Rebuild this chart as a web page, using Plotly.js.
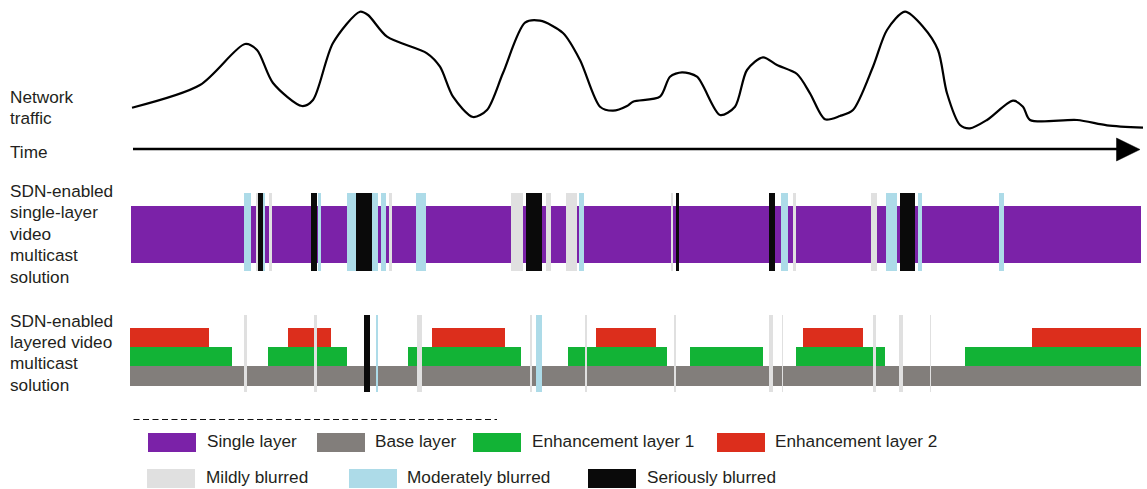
<!DOCTYPE html>
<html>
<head>
<meta charset="utf-8">
<script src="https://cdn.plot.ly/plotly-3.0.1.min.js"></script>
<style>html,body{margin:0;padding:0;background:#fff;}#chart{width:1147px;height:489px;}</style>
</head>
<body>
<div id="chart"></div>
<script>
// ---- Data (x in time units = pixel columns) ----
const trafficX = [132,200,245,257,273,302,313,333,360,368,387,427,440,453,473,487,503,525,540,563,580,600,613,627,633,660,670,682,697,720,735,747,763,777,797,810,825,840,853,873,887,905,923,938,947,960,970,987,1013,1023,1030,1077,1107,1143];
const trafficY = [107.7,85,44,50,83,106,100,43,11.7,15,36.7,53.3,66.7,96.7,117,110,73,22.7,20.7,33,60,106.7,110.7,106,101.7,96.7,76.7,72.3,76.7,115,106.7,70,57.3,65,74,93.3,119.3,116,110,66.7,30,11.7,26.7,50,93.3,125,128.3,120,100.7,106.7,120,120,125.3,127.7];

// single-layer row
const singleLayer = [[131,1141]];
const singleMild = [[256,258.5],[269,271.7],[389,391.7],[511,522.7],[546,551],[566,577],[671,672.7],[793.3,796],[871,876.7]];
const singleModerate = [[244,251],[262.7,265],[318.3,320.7],[346.7,356],[372.3,377.7],[381,386],[416,426],[579,584.3],[780.7,788],[886,896.7],[917.7,922.3],[999.3,1004.3]];
const singleSerious = [[258.3,262.7],[311,317.3],[356,372.3],[526,542],[676,678.7],[769,775.3],[900,915]];

// layered row
const baseLayer = [[130.3,1141]];
const enhLayer1 = [[130.3,231.7],[268.3,347.3],[408,520.7],[568.3,667],[690,762.7],[795.7,885],[964.7,1141]];
const enhLayer2 = [[130.3,209],[288,331],[432.3,505.3],[595.7,656],[802.7,863.3],[1031.7,1141]];
const layeredMild = [[244,246.7],[314,316.7],[417,421.7],[530.3,532.3],[584.7,587],[674.3,675.7],[769,772.7],[781.7,783.3],[873.3,875.7],[898.7,903.3],[930,931]];
const layeredModerate = [[375.7,377.7],[536,542.3]];
const layeredSerious = [[363.7,370]];

const legendRow1Labels = ["Single layer","Base layer","Enhancement layer 1","Enhancement layer 2"];
const legendRow2Labels = ["Mildly blurred","Moderately blurred","Seriously blurred"];
const rowLabelTraffic = ["Network","traffic"];
const rowLabelTime = ["Time"];
const rowLabelSingle = ["SDN-enabled","single-layer","video","multicast","solution"];
const rowLabelLayered = ["SDN-enabled","layered video","multicast","solution"];

// ---- Styles / layout constants ----
const C = {
  purple:'#7B22A8', base:'#827E7B', enh1:'#12B336', enh2:'#DC2E1C',
  mild:'#E0E0E0', moderate:'#ADDBE8', serious:'#0A0A0A', text:'#231F20'
};
const FONT = 'Arial, "Liberation Sans", Helvetica, sans-serif';
const FS = 17.2;

function rects(spans, top, bottom, color){
  return {
    type:'bar', x:spans.map(s=>(s[0]+s[1])/2), width:spans.map(s=>s[1]-s[0]),
    base:spans.map(()=>top), y:spans.map(()=>bottom-top),
    marker:{color:color, line:{width:0}}, hoverinfo:'skip', showlegend:false
  };
}

const traces = [];
traces.push(rects(singleLayer,206,263.3,C.purple));
traces.push(rects(singleMild,193,271,C.mild));
traces.push(rects(singleModerate,193,271,C.moderate));
traces.push(rects(singleSerious,193,271,C.serious));

traces.push(rects(baseLayer,366,386,C.base));
traces.push(rects(enhLayer1,347.3,366,C.enh1));
traces.push(rects(enhLayer2,328,347.3,C.enh2));
traces.push(rects(layeredMild,315,392,C.mild));
traces.push(rects(layeredModerate,315,392,C.moderate));
traces.push(rects(layeredSerious,315,392,C.serious));

// traffic curve
traces.push({type:'scatter', mode:'lines', x:trafficX, y:trafficY,
  line:{color:'#000', width:2.2, shape:'spline', smoothing:0.8}, hoverinfo:'skip', showlegend:false});

// time arrow
traces.push({type:'scatter', mode:'lines', x:[133,1120], y:[149,149],
  line:{color:'#000', width:2.6}, hoverinfo:'skip', showlegend:false});
traces.push({type:'scatter', mode:'lines', x:[1116.5,1140,1116.5,1116.5], y:[138,149.5,161,138],
  fill:'toself', fillcolor:'#000', line:{color:'#000', width:0.5}, hoverinfo:'skip', showlegend:false});

// dashed separator
traces.push({type:'scatter', mode:'lines', x:[133.5,497], y:[419.5,419.5],
  line:{color:'#111', width:1, dash:'6px,3.5px'}, hoverinfo:'skip', showlegend:false});

// legend swatches
const sw1X = [148.3,316.7,473.3,717];
const sw1C = [C.purple,C.base,C.enh1,C.enh2];
const sw2X = [147.3,348.7,588.3];
const sw2C = [C.mild,C.moderate,C.serious];
sw1X.forEach((x,i)=>traces.push(rects([[x,x+48]],433.3,451.7,sw1C[i])));
sw2X.forEach((x,i)=>traces.push(rects([[x,x+48]],469.3,487.7,sw2C[i])));

const annotations = [];
function label(lines, x, firstBaseline, step){
  lines.forEach((t,i)=>annotations.push({
    x:x, y:firstBaseline + i*step - 5.5, xref:'x', yref:'y', text:t, showarrow:false,
    xanchor:'left', yanchor:'middle', font:{family:FONT, size:FS, color:C.text}
  }));
}
label(rowLabelTraffic, 8, 102.7, 20.6);
label(rowLabelTime, 8, 157.3, 0);
label(rowLabelSingle, 8, 196, 21.5);
label(rowLabelLayered, 8, 326.7, 21.1);
const tx1 = [204.5,372.5,530,772.5];
const tx2 = [203.5,405,644.5];
legendRow1Labels.forEach((t,i)=>label([t], tx1[i], 446.7, 0));
legendRow2Labels.forEach((t,i)=>label([t], tx2[i], 482.3, 0));

const layout = {
  width:1147, height:489, margin:{l:0,r:0,t:0,b:0},
  paper_bgcolor:'#fff', plot_bgcolor:'#fff',
  barmode:'overlay', bargap:0, hovermode:false, showlegend:false,
  xaxis:{range:[0,1147], visible:false, fixedrange:true},
  yaxis:{range:[489,0], visible:false, fixedrange:true},
  annotations:annotations
};
Plotly.newPlot('chart', traces, layout, {staticPlot:true, displayModeBar:false});
</script>
</body>
</html>
